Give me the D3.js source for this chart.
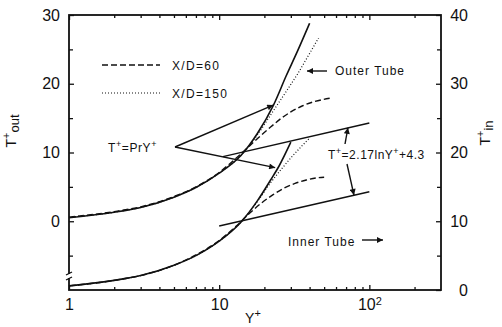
<!DOCTYPE html>
<html>
<head>
<meta charset="utf-8">
<script src="https://cdn.jsdelivr.net/npm/d3@7"></script>
<style>
body { margin: 0; background: #fff; }
text { font-family: "Liberation Sans", Arial, sans-serif; fill: #111; }
</style>
</head>
<body>
<script>
// ticks

const yMajor = [1, 10, 100];
const yMinor = [2, 3, 4, 5, 6, 7, 8, 9, 20, 30, 40, 50, 60, 70, 80, 90, 200];
const outMajor = [30, 20, 10, 0];
const outMinor = [25, 15, 5, -5];
const inMajor = [40, 30, 20, 10, 0];
const inMinor = [35, 25, 15, 5];

// outer tube (left axis, T+out)

const outPrY_Y = [1, 2, 3, 5, 7, 10, 14, 18, 23, 28, 33, 40];
const outPrY_T = [0.5, 1.3, 2.0, 3.5, 4.9, 7.0, 9.6, 12.8, 16.9, 21.2, 24.6, 28.8];
const out60_Y = [1, 2, 3, 5, 7, 10, 13, 16, 19, 22, 26, 30, 36, 43, 55];
const out60_T = [0.6, 1.4, 2.1, 3.6, 5.0, 7.1, 9.2, 11.0, 12.5, 13.7, 15.0, 15.9, 16.8, 17.4, 17.9];
const out150_Y = [1, 2, 3, 5, 7, 10, 14, 18, 23, 28, 33, 40, 46];
const out150_T = [0.6, 1.3, 2.0, 3.5, 4.9, 7.0, 9.6, 12.6, 16.1, 18.9, 21.3, 24.4, 26.7];
const outLog_Y = [10.6, 100];
const outLog_T = [9.4, 14.3];

// inner tube (right axis, T+in)

const inPrY_Y = [1, 2, 3, 5, 7, 10, 14, 18, 22, 25, 30];
const inPrY_T = [0.6, 1.4, 2.1, 3.6, 5.0, 7.1, 9.9, 13.0, 16.0, 18.0, 21.5];
const in60_Y = [1, 2, 3, 5, 7, 10, 13, 16, 19, 23, 27, 32, 38, 44, 50];
const in60_T = [0.6, 1.4, 2.1, 3.6, 5.1, 7.2, 9.3, 11.2, 12.6, 13.9, 14.8, 15.5, 16.0, 16.3, 16.4];
const in150_Y = [1, 2, 3, 5, 7, 10, 14, 18, 22, 26, 30, 35, 40];
const in150_T = [0.6, 1.4, 2.1, 3.6, 5.0, 7.1, 9.9, 12.9, 15.6, 17.6, 19.2, 20.8, 22.1];
const inLog_Y = [10, 100];
const inLog_T = [9.3, 14.3];

// establishing graph

const w = 502;
const h = 327;
const m = { top: 15, right: 61, bottom: 37, left: 69 };

const svg = d3.select("body").append("svg").
attr("width", w).
attr("height", h);

const x = d3.scaleLog().domain([1, 300]).range([m.left, w - m.right]);
const yOut = d3.scaleLinear().domain([-10, 30]).range([h - m.bottom, m.top]);
const yIn = d3.scaleLinear().domain([0, 40]).range([h - m.bottom, m.top]);

const font = "\"Liberation Sans\", Arial, sans-serif";

// arrow head

svg.append("defs").append("marker").
attr("id", "head").
attr("viewBox", "0 0 10 10").
attr("refX", 10).
attr("refY", 5).
attr("markerWidth", 8).
attr("markerHeight", 6).
attr("markerUnits", "userSpaceOnUse").
attr("orient", "auto").
append("path").
attr("d", "M0,0 L10,5 L0,10 Z").
attr("fill", "#111");

// axes

function styleAxis(g) {
  g.select(".domain").remove();
  g.selectAll("line").attr("stroke", "#111").attr("stroke-width", 1.3);
  g.selectAll("text").attr("font-family", font).attr("font-size", 16).attr("fill", "#111");
}

svg.append("g").
attr("transform", "translate(0," + (h - m.bottom) + ")").
call(d3.axisBottom(x).tickValues(yMinor).tickSizeInner(-3).tickSizeOuter(0).tickFormat("")).
call(styleAxis);

const bottomMajor = svg.append("g").
attr("transform", "translate(0," + (h - m.bottom) + ")").
call(d3.axisBottom(x).tickValues(yMajor).tickSizeInner(-5).tickSizeOuter(0).tickPadding(9).tickFormat(d3.format("d"))).
call(styleAxis);

bottomMajor.selectAll(".tick text").filter(d => d === 100).
text("10").
append("tspan").
attr("dy", "-0.5em").
attr("font-size", 11).
text("2");

svg.append("g").
attr("transform", "translate(0," + m.top + ")").
call(d3.axisTop(x).tickValues(yMinor).tickSizeInner(-3).tickSizeOuter(0).tickFormat("")).
call(styleAxis);

svg.append("g").
attr("transform", "translate(0," + m.top + ")").
call(d3.axisTop(x).tickValues(yMajor).tickSizeInner(-5).tickSizeOuter(0).tickFormat("")).
call(styleAxis);

svg.append("g").
attr("transform", "translate(" + m.left + ",0)").
call(d3.axisLeft(yOut).tickValues(outMinor).tickSizeInner(-4).tickSizeOuter(0).tickFormat("")).
call(styleAxis);

svg.append("g").
attr("transform", "translate(" + m.left + ",0)").
call(d3.axisLeft(yOut).tickValues(outMajor).tickSizeInner(-5).tickSizeOuter(0).tickPadding(9)).
call(styleAxis);

svg.append("g").
attr("transform", "translate(" + (w - m.right) + ",0)").
call(d3.axisRight(yIn).tickValues(inMinor).tickSizeInner(-4).tickSizeOuter(0).tickFormat("")).
call(styleAxis);

svg.append("g").
attr("transform", "translate(" + (w - m.right) + ",0)").
call(d3.axisRight(yIn).tickValues(inMajor).tickSizeInner(-5).tickSizeOuter(0)).
call(styleAxis).
selectAll(".tick text").
attr("text-anchor", "end").
attr("x", 27);

// frame

svg.append("rect").
attr("x", m.left).
attr("y", m.top).
attr("width", w - m.left - m.right).
attr("height", h - m.top - m.bottom).
attr("fill", "none").
attr("stroke", "#111").
attr("stroke-width", 1.8);

// axis break on the left axis

svg.append("rect").
attr("x", m.left - 3).
attr("y", 274).
attr("width", 6).
attr("height", 4).
attr("fill", "#fff");
[273, 278].forEach(yy => {
  svg.append("line").
  attr("x1", m.left - 3).
  attr("y1", yy + 2).
  attr("x2", m.left + 3).
  attr("y2", yy - 1).
  attr("stroke", "#111").
  attr("stroke-width", 1.3);
});

// titles

const tOut = svg.append("text").
attr("transform", "translate(16," + 131 + ") rotate(-90)").
attr("text-anchor", "middle").
attr("font-size", 14);
tOut.append("tspan").text("T");
tOut.append("tspan").attr("dy", -6).attr("font-size", 11).text("+");
tOut.append("tspan").attr("dy", 9).attr("font-size", 13).text("out");

const tIn = svg.append("text").
attr("transform", "translate(490," + 133 + ") rotate(-90)").
attr("text-anchor", "middle").
attr("font-size", 14);
tIn.append("tspan").text("T");
tIn.append("tspan").attr("dy", -6).attr("font-size", 11).text("+");
tIn.append("tspan").attr("dy", 9).attr("font-size", 13).text("in");

const tY = svg.append("text").
attr("x", 253).
attr("y", 323).
attr("text-anchor", "middle").
attr("font-size", 14);
tY.append("tspan").text("Y");
tY.append("tspan").attr("dy", -6).attr("font-size", 11).text("+");

// curves

function curve(ys, ts, scaleY, dash, width) {
  const pts = ys.map((d, i) => [x(d), scaleY(ts[i])]);
  svg.append("path").
  attr("d", d3.line().curve(d3.curveMonotoneX)(pts)).
  attr("fill", "none").
  attr("stroke", "#111").
  attr("stroke-width", width).
  attr("stroke-dasharray", dash);
}

curve(outPrY_Y, outPrY_T, yOut, null, 1.6);
curve(out60_Y, out60_T, yOut, "6,3", 1.4);
curve(out150_Y, out150_T, yOut, "1,2", 1.2);
curve(outLog_Y, outLog_T, yOut, null, 1.5);

curve(inPrY_Y, inPrY_T, yIn, null, 1.6);
curve(in60_Y, in60_T, yIn, "6,3", 1.4);
curve(in150_Y, in150_T, yIn, "1,2", 1.2);
curve(inLog_Y, inLog_T, yIn, null, 1.5);

// legend

svg.append("line").
attr("x1", 102).attr("x2", 160).attr("y1", 65).attr("y2", 65).
attr("stroke", "#111").attr("stroke-width", 1.4).attr("stroke-dasharray", "6,3");
svg.append("line").
attr("x1", 102).attr("x2", 160).attr("y1", 93).attr("y2", 93).
attr("stroke", "#111").attr("stroke-width", 1.2).attr("stroke-dasharray", "1,2");

svg.append("text").attr("x", 172).attr("y", 70).attr("font-size", 12).attr("letter-spacing", 1.3).text("X/D=60");
svg.append("text").attr("x", 172).attr("y", 98).attr("font-size", 12).attr("letter-spacing", 1.3).text("X/D=150");

// annotations

function arrow(x1, y1, x2, y2) {
  svg.append("line").
  attr("x1", x1).attr("y1", y1).attr("x2", x2).attr("y2", y2).
  attr("stroke", "#111").
  attr("stroke-width", 1.4).
  attr("marker-end", "url(#head)");
}

const prY = svg.append("text").attr("x", 108).attr("y", 152).attr("font-size", 12).attr("letter-spacing", 0.6);
prY.append("tspan").text("T");
prY.append("tspan").attr("dy", -5).attr("font-size", 9).text("+");
prY.append("tspan").attr("dy", 5).text("=PrY");
prY.append("tspan").attr("dy", -5).attr("font-size", 9).text("+");

arrow(175, 147, x(22.9), yOut(16.9));
arrow(175, 147, x(23.6), yIn(17.8));

const logLaw = svg.append("text").attr("x", 328).attr("y", 159).attr("font-size", 12).attr("letter-spacing", 0.5);
logLaw.append("tspan").text("T");
logLaw.append("tspan").attr("dy", -5).attr("font-size", 9).text("+");
logLaw.append("tspan").attr("dy", 5).text("=2.17lnY");
logLaw.append("tspan").attr("dy", -5).attr("font-size", 9).text("+");
logLaw.append("tspan").attr("dy", 5).text("+4.3");

arrow(345, 144, x(72), yOut(13.6));
arrow(347, 164, x(79), yIn(13.8));

svg.append("text").attr("x", 335).attr("y", 75).attr("font-size", 12).attr("letter-spacing", 1).text("Outer Tube");
arrow(327, 71, 307, 71);

svg.append("text").attr("x", 288).attr("y", 246).attr("font-size", 12).attr("letter-spacing", 1).text("Inner Tube");
arrow(362, 240, 383, 240);
</script>
</body>
</html>
